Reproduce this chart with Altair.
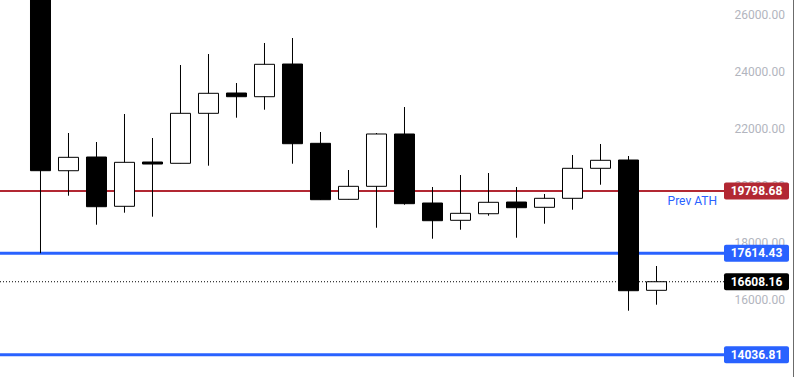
import altair as alt
import pandas as pd

# ---- data ----
opens = [28000, 20517, 21000, 19264, 20824, 20778, 22538, 23253, 23123, 24274, 21482, 19510,
         19968, 21810, 19380, 18771, 19003, 19415, 19229, 19546, 20602, 20894, 16306]
highs = [28500, 21845, 21528, 22514, 21669, 24239, 24626, 23605, 25014, 25190, 21880, 20542,
         21845, 22760, 19944, 20366, 20436, 19944, 19697, 21070, 21458, 21035, 17162]
lows = [17614, 19637, 18616, 19039, 18898, 20778, 20694, 22384, 22665, 20764, 19496, 19510,
        18510, 19320, 18123, 18440, 18933, 18158, 18651, 19144, 20024, 15588, 15799]
closes = [20518, 20989, 19250, 20813, 20753, 22538, 23243, 23123, 24264, 21468, 19496, 19968,
          21810, 19356, 18757, 19017, 19405, 19215, 19546, 20602, 20884, 16292, 16608.16]

prev_ath = 19798.68
support_1 = 17614.43
support_2 = 14036.81
last_price = 16608.16

y_ticks = [14000, 16000, 18000, 20000, 22000, 24000, 26000]

level_kinds = ["prev_ath", "support_1", "last", "support_2"]
level_values = [prev_ath, support_1, last_price, support_2]

RED = "#b22833"
BLUE = "#2962ff"
FONT = "Roboto"

df = pd.DataFrame({"i": list(range(len(opens))), "open": opens, "high": highs,
                   "low": lows, "close": closes})

xs = alt.Scale(domain=[-1.4464, 24.4107], nice=False, zero=False, padding=0)
ys = alt.Scale(domain=[13254, 26528], nice=False, zero=False, padding=0)

base = alt.Chart(df)

wicks = base.mark_rule(color="black", strokeWidth=1, clip=True).encode(
    x=alt.X("i:Q", scale=xs, axis=None),
    y=alt.Y("low:Q", scale=ys, title=None,
            axis=alt.Axis(orient="right", values=y_ticks, format=".2f", title=None,
                          labelOverlap=False)),
    y2="high:Q",
)

bodies = base.mark_bar(size=20, stroke="black", strokeWidth=1, clip=True).encode(
    x=alt.X("i:Q", scale=xs, axis=None),
    y=alt.Y("open:Q", scale=ys, title=None),
    y2="close:Q",
    fill=alt.condition("datum.close < datum.open", alt.value("black"), alt.value("white")),
)

def level_rule(value, color, width, dash=None):
    kw = dict(color=color, strokeWidth=width)
    if dash is not None:
        kw["strokeDash"] = dash
    return alt.Chart(pd.DataFrame({"p": [value]})).mark_rule(**kw).encode(
        y=alt.Y("p:Q", scale=ys, title=None)
    )

red_line = level_rule(prev_ath, RED, 2)
blue_line1 = level_rule(support_1, BLUE, 3)
blue_line2 = level_rule(support_2, BLUE, 3)
dotted = level_rule(last_price, "black", 1, [1, 2])

lv = pd.DataFrame({"kind": level_kinds, "p": level_values})
color_scale = alt.Scale(domain=level_kinds, range=[RED, BLUE, "black", BLUE])

boxes = alt.Chart(lv).mark_rect(cornerRadius=2, yOffset=-8.5, y2Offset=8.5).encode(
    x=alt.value(724), x2=alt.value(789),
    y=alt.Y("p:Q", scale=ys, title=None), y2="p:Q",
    fill=alt.Fill("kind:N", scale=color_scale, legend=None),
)

box_text = alt.Chart(lv).mark_text(color="white", font=FONT, fontSize=12,
                                   fontWeight="bold", align="center", baseline="middle").encode(
    x=alt.value(756.5),
    y=alt.Y("p:Q", scale=ys, title=None),
    text=alt.Text("p:Q", format=".2f"),
)

ath_label = alt.Chart(pd.DataFrame({"p": [prev_ath], "t": ["Prev ATH"]})).mark_text(
    color=BLUE, font=FONT, fontSize=12, align="right", baseline="middle", dy=10
).encode(
    x=alt.value(717),
    y=alt.Y("p:Q", scale=ys, title=None),
    text="t:N",
)

border = alt.Chart(pd.DataFrame({"a": [0]})).mark_rule(color="#6b6b6b", strokeWidth=1).encode(
    x=alt.value(793.5), y=alt.value(0), y2=alt.value(377)
)

chart = alt.layer(
    red_line, blue_line1, blue_line2, dotted, wicks, bodies, boxes, box_text, ath_label, border
).properties(
    width=724, height=377,
    autosize=alt.AutoSizeParams(type="none"),
    padding={"left": 0, "top": 0, "right": 71, "bottom": 0},
    background="white",
).configure_view(stroke=None).configure_axis(
    ticks=False, domain=False, grid=False, labelColor="#b2b5be", labelFont=FONT,
    labelFontSize=12, labelPadding=10, labelAlign="left", labelBaseline="middle", title=None
)

chart.save("out.html", embed_options={"renderer": "svg", "actions": False})
